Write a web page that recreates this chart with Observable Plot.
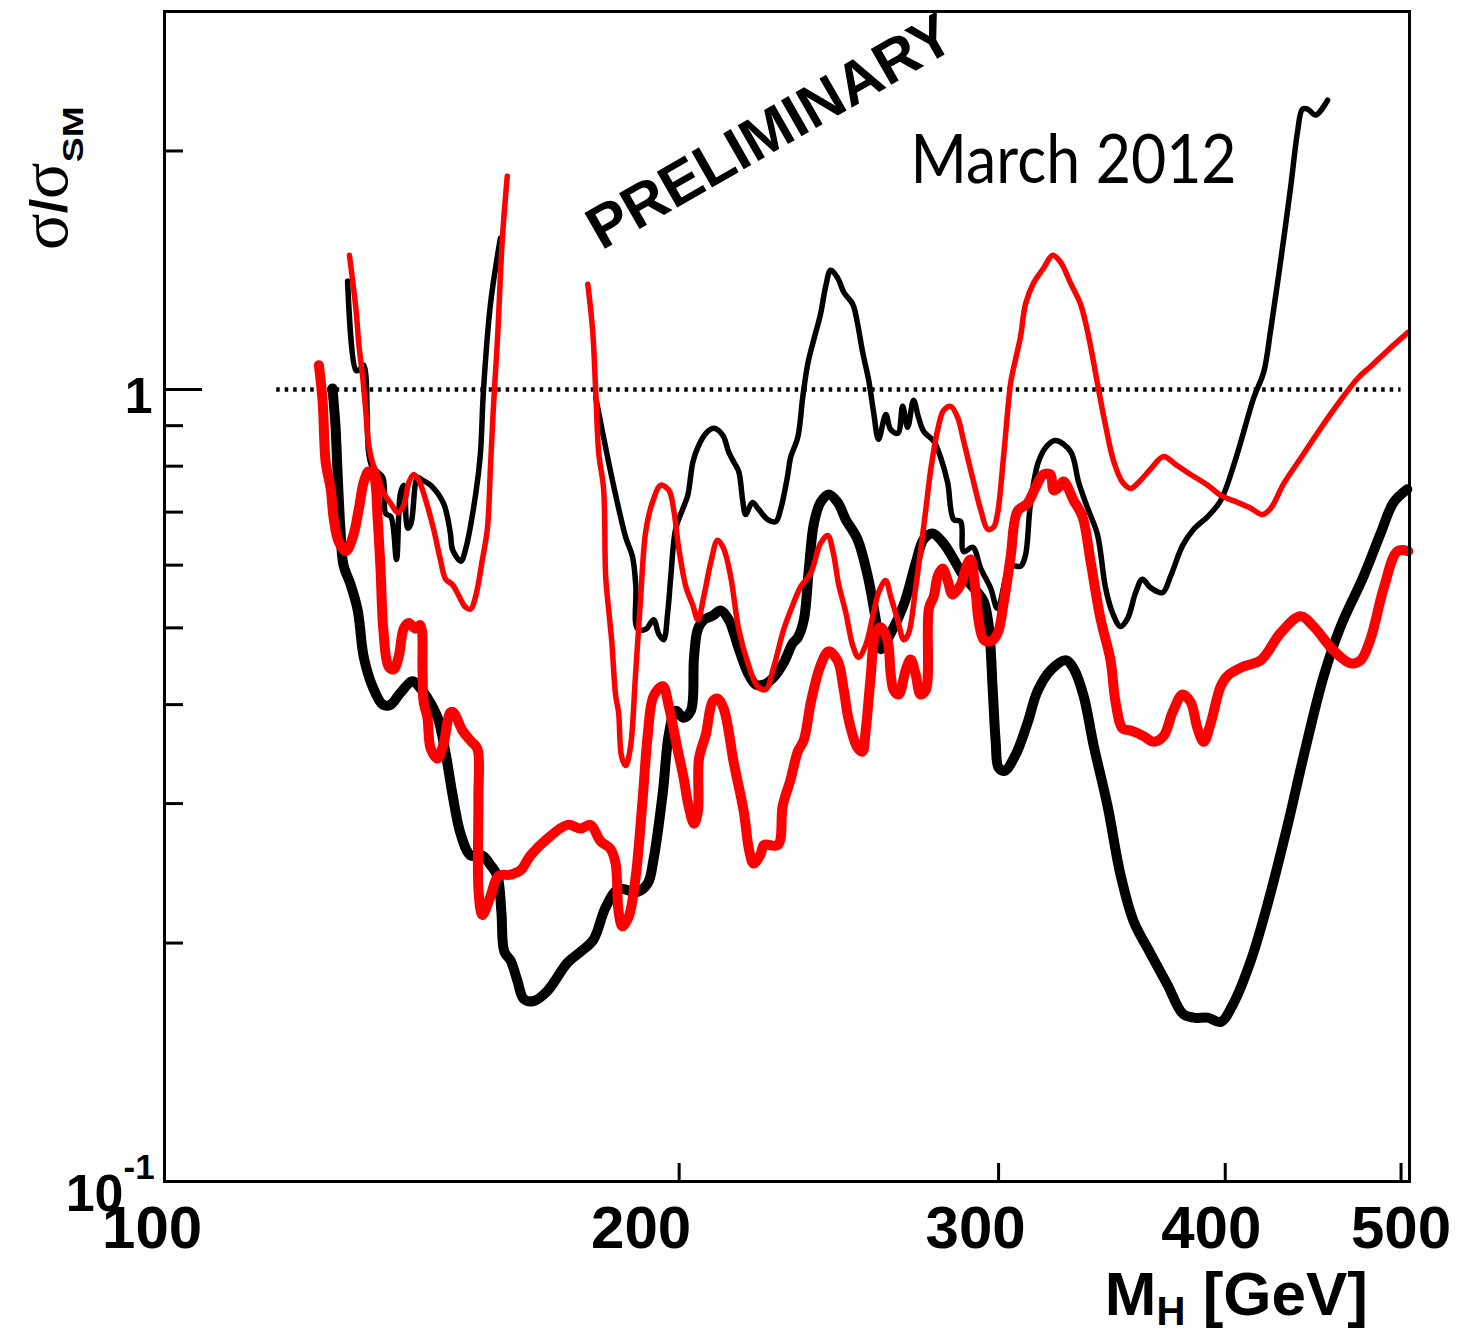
<!DOCTYPE html>
<html><head><meta charset="utf-8">
<script src="https://cdn.jsdelivr.net/npm/d3@7"></script>
<script src="https://cdn.jsdelivr.net/npm/@observablehq/plot@0.6"></script>
<style>html,body{margin:0;padding:0;background:#fff;} #chart svg{display:block;background:#fff}</style>
</head><body><div id="chart"></div>
<script>
// ---- data (M_H in GeV, sigma/sigma_SM) ----
const xTickValues = [200, 300, 400, 500];
const xLabelValues = [100, 200, 300, 400, 500];
const yMajorTicks = [1];
const yMinorTicks = [2, 0.9, 0.8, 0.7, 0.6, 0.5, 0.4, 0.3, 0.2];
const unityLevel = [1];
const unityRange = [120, 500];

const thickBlack = [
[128.8,1.003],[129.3,0.898],[129.6,0.797],[130.1,0.668],[130.6,0.601],[131.8,0.567],[133.0,0.526],[134.0,0.460],[135.5,0.422],[137.3,0.400],[138.7,0.400],[140.4,0.414],[142.6,0.428],[143.7,0.422],[145.3,0.408],[147.2,0.385],[148.7,0.347],[150.0,0.308],[151.6,0.274],[153.5,0.258],[155.8,0.258],[157.4,0.251],[158.8,0.243],[159.6,0.219],[160.2,0.195],[161.5,0.190],[162.9,0.179],[164.2,0.170],[166.3,0.169],[169.2,0.174],[173.6,0.189],[176.5,0.195],[179.4,0.202],[182.2,0.222],[185.2,0.234],[189.7,0.232],[192.2,0.238],[193.6,0.255],[195.9,0.310],[197.4,0.367],[199.1,0.393],[201.1,0.385],[203.0,0.393],[203.8,0.458],[204.8,0.498],[206.4,0.512],[208.7,0.518],[210.8,0.526],[213.0,0.512],[215.7,0.471],[218.2,0.439],[220.4,0.424],[222.7,0.424],[225.5,0.433],[228.4,0.452],[231.0,0.478],[232.5,0.486],[234.3,0.512],[235.8,0.594],[237.3,0.677],[239.3,0.720],[241.8,0.737],[244.6,0.720],[247.1,0.685],[250.8,0.647],[254.1,0.581],[256.6,0.515],[258.3,0.470],[261.6,0.492],[266.0,0.535],[270.0,0.603],[272.8,0.647],[275.9,0.658],[279.8,0.639],[283.4,0.610],[287.0,0.581],[291.4,0.558],[294.4,0.540],[296.3,0.502],[297.8,0.416],[298.9,0.359],[300.0,0.333],[302.3,0.330],[306.6,0.346],[311.2,0.379],[315.2,0.416],[320.5,0.442],[326.7,0.455],[330.0,0.444],[334.2,0.410],[338.4,0.356],[344.5,0.298],[350.2,0.244],[356.1,0.213],[363.8,0.194],[371.8,0.177],[378.9,0.163],[384.3,0.161],[391.2,0.161],[397.7,0.159],[404.3,0.168],[413.2,0.190],[422.1,0.224],[433.0,0.282],[441.8,0.344],[453.3,0.435],[463.1,0.502],[476.8,0.581],[487.2,0.658],[495.3,0.720],[504.0,0.748]
];

const thinBlackLow = [
[131.3,1.370],[132.7,1.057],[133.2,1.057],[134.0,1.073],[134.85,0.833],[135.5,0.797],[137.3,0.774],[137.8,0.697],[138.7,0.691],[139.7,0.610],[140.4,0.739],[141.0,0.757],[141.7,0.668],[142.3,0.677],[143.5,0.774],[144.4,0.768],[145.9,0.757],[148.3,0.718],[149.6,0.658],[150.0,0.628],[151.6,0.607],[152.5,0.628],[154.5,0.739],[155.4,0.828],[156.0,0.994],[157.4,1.281],[159.4,1.552]
];

const thinBlackHigh = [
[179.9,0.977],[182.6,0.823],[185.0,0.716],[186.9,0.650],[188.5,0.615],[189.3,0.564],[189.7,0.499],[191.7,0.498],[193.6,0.512],[194.9,0.491],[196.1,0.483],[197.1,0.522],[197.9,0.581],[199.1,0.666],[200.9,0.706],[202.2,0.735],[203.5,0.809],[204.8,0.845],[206.9,0.880],[209.0,0.893],[211.4,0.875],[213.0,0.833],[214.4,0.809],[215.7,0.788],[216.8,0.724],[217.6,0.695],[219.5,0.720],[221.2,0.706],[223.8,0.685],[226.1,0.681],[227.5,0.706],[229.5,0.777],[230.4,0.821],[232.5,0.870],[234.0,0.980],[235.5,1.079],[237.3,1.157],[239.3,1.244],[240.9,1.350],[242.4,1.414],[244.6,1.382],[246.5,1.326],[249.3,1.281],[250.8,1.212],[252.4,1.117],[254.4,1.027],[256.0,0.935],[257.6,0.865],[260.0,0.930],[261.6,0.890],[264.0,0.880],[265.6,0.952],[267.3,0.896],[269.3,0.969],[271.0,0.922],[272.8,0.885],[276.3,0.860],[278.7,0.821],[281.2,0.763],[283.4,0.685],[285.9,0.681],[287.0,0.624],[290.3,0.632],[293.3,0.594],[297.0,0.561],[299.6,0.529],[304.6,0.598],[308.5,0.598],[310.4,0.617],[312.4,0.718],[315.6,0.811],[319.2,0.850],[322.5,0.862],[328.7,0.835],[332.1,0.763],[335.9,0.708],[340.1,0.656],[343.6,0.562],[346.7,0.522],[350.2,0.502],[353.4,0.514],[357.0,0.554],[360.1,0.576],[363.8,0.562],[369.4,0.554],[373.2,0.581],[378.9,0.635],[384.3,0.666],[391.2,0.691],[397.7,0.724],[405.4,0.818],[414.8,0.977],[420.0,1.051],[423.8,1.191],[429.2,1.456],[434.7,1.806],[438.5,2.119],[441.2,2.259],[444.1,2.259],[448.7,2.220],[455.5,2.319]
];

const thickRed = [
[126.6,1.073],[127.2,0.966],[127.7,0.809],[128.5,0.750],[129.0,0.687],[129.8,0.643],[131.0,0.625],[132.2,0.652],[133.2,0.708],[134.0,0.763],[134.85,0.788],[135.7,0.779],[136.4,0.687],[136.9,0.593],[137.4,0.496],[138.3,0.447],[139.2,0.443],[140.1,0.460],[141.0,0.499],[141.9,0.507],[143.1,0.499],[144.0,0.504],[144.4,0.441],[144.6,0.403],[145.3,0.385],[145.9,0.352],[147.2,0.342],[148.3,0.357],[149.6,0.391],[150.2,0.391],[151.9,0.371],[153.5,0.360],[154.8,0.352],[155.0,0.304],[155.05,0.232],[155.8,0.217],[157.4,0.229],[159.0,0.243],[161.5,0.244],[163.5,0.247],[165.6,0.258],[169.2,0.271],[173.6,0.282],[176.5,0.279],[178.7,0.282],[181.0,0.269],[183.3,0.263],[184.5,0.252],[185.2,0.219],[186.1,0.210],[187.6,0.216],[189.2,0.241],[190.9,0.302],[192.2,0.367],[193.6,0.410],[195.9,0.422],[197.4,0.398],[199.6,0.351],[201.1,0.324],[202.4,0.298],[203.8,0.283],[204.8,0.293],[205.1,0.342],[206.9,0.367],[208.7,0.404],[210.0,0.407],[211.6,0.396],[214.4,0.337],[217.1,0.293],[218.5,0.263],[219.8,0.252],[221.8,0.259],[222.7,0.266],[226.7,0.266],[228.1,0.298],[230.4,0.322],[232.5,0.349],[234.3,0.361],[236.4,0.403],[239.3,0.448],[241.8,0.467],[244.6,0.454],[246.5,0.417],[248.0,0.383],[250.8,0.353],[252.4,0.349],[253.4,0.370],[255.0,0.432],[256.6,0.492],[258.3,0.501],[260.6,0.481],[261.6,0.437],[262.6,0.417],[264.3,0.412],[266.6,0.442],[268.3,0.456],[270.0,0.437],[271.7,0.412],[273.5,0.417],[274.6,0.529],[276.3,0.548],[277.7,0.581],[279.4,0.594],[281.2,0.574],[283.0,0.551],[285.9,0.567],[288.4,0.603],[289.5,0.610],[291.4,0.554],[292.5,0.510],[294.4,0.483],[297.0,0.481],[299.6,0.492],[301.9,0.537],[304.6,0.614],[307.3,0.702],[311.2,0.718],[314.4,0.752],[317.6,0.781],[320.4,0.781],[321.7,0.746],[323.7,0.752],[325.8,0.765],[330.0,0.724],[333.7,0.691],[337.1,0.608],[341.4,0.514],[345.8,0.455],[348.0,0.403],[351.2,0.373],[354.8,0.371],[360.6,0.365],[365.2,0.359],[369.9,0.365],[374.1,0.391],[378.9,0.412],[382.8,0.403],[386.2,0.373],[389.2,0.359],[392.7,0.379],[397.7,0.422],[401.2,0.435],[409.5,0.447],[418.4,0.455],[429.2,0.493],[440.1,0.517],[447.5,0.502],[459.0,0.468],[469.1,0.451],[475.0,0.455],[481.1,0.485],[489.1,0.561],[497.8,0.625],[504.6,0.625]
];

const thinRedLow = [
[131.6,1.477],[132.7,1.262],[133.2,1.137],[133.8,1.042],[134.3,0.952],[134.85,0.852],[135.5,0.809],[136.4,0.779],[137.5,0.739],[138.7,0.718],[139.9,0.699],[141.0,0.714],[141.9,0.763],[142.8,0.781],[143.7,0.768],[144.9,0.728],[146.4,0.668],[147.7,0.610],[148.7,0.576],[150.0,0.567],[151.2,0.549],[152.5,0.531],[153.5,0.528],[154.5,0.549],[155.8,0.610],[156.8,0.668],[157.4,0.797],[158.0,0.952],[158.8,1.153],[159.8,1.552],[160.8,1.859]
];

const thinRedHigh = [
[178.1,1.358],[179.2,1.187],[179.9,0.994],[180.6,0.830],[181.7,0.750],[182.2,0.579],[182.9,0.526],[183.6,0.481],[184.5,0.411],[185.2,0.391],[185.9,0.344],[186.9,0.335],[188.0,0.353],[189.2,0.434],[190.4,0.540],[191.7,0.662],[193.4,0.722],[195.4,0.757],[197.4,0.746],[198.6,0.706],[199.9,0.630],[201.7,0.564],[203.5,0.534],[204.8,0.512],[206.4,0.549],[208.2,0.605],[210.0,0.645],[211.6,0.630],[213.5,0.581],[215.7,0.498],[218.2,0.452],[220.9,0.422],[223.2,0.418],[225.5,0.446],[228.4,0.498],[231.0,0.534],[233.4,0.564],[236.4,0.587],[239.3,0.639],[241.5,0.654],[243.1,0.625],[244.9,0.567],[247.1,0.523],[249.3,0.475],[251.1,0.459],[253.4,0.475],[256.0,0.523],[257.6,0.554],[259.9,0.574],[261.6,0.548],[264.0,0.510],[266.0,0.483],[267.6,0.492],[270.0,0.561],[271.7,0.625],[273.5,0.704],[275.2,0.790],[277.7,0.890],[279.8,0.941],[282.3,0.952],[284.8,0.922],[287.0,0.860],[290.3,0.772],[293.3,0.704],[295.9,0.666],[298.1,0.670],[299.6,0.697],[301.9,0.823],[304.6,1.018],[305.8,1.066],[308.5,1.167],[310.4,1.281],[313.6,1.362],[317.6,1.422],[321.3,1.477],[324.6,1.447],[328.7,1.362],[332.9,1.281],[336.3,1.167],[340.1,1.018],[343.6,0.901],[347.2,0.811],[351.2,0.763],[354.8,0.750],[358.3,0.763],[363.8,0.793],[369.9,0.823],[375.6,0.804],[382.8,0.781],[391.2,0.757],[397.7,0.735],[406.4,0.720],[413.2,0.708],[419.4,0.695],[423.8,0.708],[430.9,0.761],[440.1,0.818],[451.5,0.893],[463.1,0.969],[473.3,1.033],[481.1,1.069],[491.6,1.120],[504.6,1.181]
];

// ---- layout ----
const W = 1461, H = 1335;
const mL = 164, mR = 52, mT = 11, mB = 154;
const xDomain = [104.07, 505.4];
const yDomain = [0.1, 3];
const plotW = W - mL - mR, plotH = H - mT - mB;
const xAtPx = px => xDomain[0] * Math.pow(xDomain[1] / xDomain[0], px / plotW);
const yAtPx = px => yDomain[0] * Math.pow(yDomain[1] / yDomain[0], px / plotH);
const SANS = "Liberation Sans, Arial, Helvetica, sans-serif";
const xLabelShift = {100: 19, 200: -38, 300: -23, 400: -14, 500: 0};
const THICK = 10, THIN = 5.5;

const curve = (data, color, width) => Plot.line(data, {
  x: d => d[0], y: d => d[1], stroke: color, strokeWidth: width,
  curve: "catmull-rom", strokeLinejoin: "round"
});

const chart = Plot.plot({
  width: W, height: H,
  marginLeft: mL, marginRight: mR, marginTop: mT, marginBottom: mB,
  x: {type: "log", domain: xDomain, axis: null},
  y: {type: "log", domain: yDomain, axis: null},
  style: {background: "white", overflow: "visible"},
  marks: [
    Plot.ruleY(unityLevel, {x1: unityRange[0], x2: unityRange[1], stroke: "black", strokeWidth: 4.5, strokeDasharray: "3.5,5"}),
    curve(thickBlack, "black", THICK),
    curve(thinBlackLow, "black", THIN),
    curve(thinBlackHigh, "black", THIN),
    curve(thickRed, "#ff0000", THICK),
    curve(thinRedLow, "#ff0000", THIN),
    curve(thinRedHigh, "#ff0000", THIN),
    Plot.ruleX(xTickValues, {y1: yDomain[0], y2: yAtPx(18), stroke: "black", strokeWidth: 3}),
    Plot.ruleY(yMajorTicks, {x1: xDomain[0], x2: xAtPx(38), stroke: "black", strokeWidth: 3}),
    Plot.ruleY(yMinorTicks, {x1: xDomain[0], x2: xAtPx(19), stroke: "black", strokeWidth: 3}),
    Plot.frame({stroke: "black", strokeWidth: 3}),
    ...xLabelValues.map(v => Plot.text([v], {
      x: d => d, y: yDomain[0], text: d => String(d), dx: xLabelShift[v], dy: 66,
      lineAnchor: "bottom", fontSize: 60, fontWeight: "bold", fontFamily: SANS, fill: "black"
    })),
    Plot.text(yMajorTicks, {x: xDomain[0], y: d => d, text: d => String(d), textAnchor: "end", dx: -12, dy: 24,
      lineAnchor: "bottom", fontSize: 50, fontWeight: "bold", fontFamily: SANS, fill: "black"}),
    Plot.text([yDomain[0]], {x: xDomain[0], y: d => d, text: () => "10", textAnchor: "end", dx: -41, dy: 29,
      lineAnchor: "bottom", fontSize: 52, fontWeight: "bold", fontFamily: SANS, fill: "black"}),
    Plot.text([yDomain[0]], {x: xDomain[0], y: d => d, text: () => "-1", textAnchor: "start", dx: -41, dy: -3,
      lineAnchor: "bottom", fontSize: 35, fontWeight: "bold", fontFamily: SANS, fill: "black"}),
    Plot.text([{m: 181.2, s: 1.496}], {x: "m", y: "s", text: () => "PRELIMINARY", rotate: -29.8,
      textAnchor: "start", lineAnchor: "bottom", fontSize: 60, fontWeight: "bold", fontFamily: SANS, fill: "black"}),
    Plot.text([{m: 268.3, s: 1.8215}], {x: "m", y: "s", text: () => "March 2012",
      textAnchor: "start", lineAnchor: "bottom", fontSize: 68, fontFamily: "Lato, 'Open Sans', sans-serif", fill: "black"})
  ]
});

document.getElementById("chart").appendChild(chart);
const svg = d3.select(chart);
svg.selectAll("text").filter(function() { return this.textContent === "March 2012"; })
  .attr("textLength", 326).attr("lengthAdjust", "spacingAndGlyphs");

// y-axis title: sigma / sigma_SM
const yt = svg.append("text").attr("transform", "translate(67,250) rotate(-90)")
  .attr("text-anchor", "start").attr("fill", "black").style("white-space", "pre");
yt.append("tspan").attr("font-family", "Liberation Serif, Times New Roman, serif").attr("font-size", 68).text("σ");
yt.append("tspan").attr("font-family", SANS).attr("font-weight", "bold").attr("font-size", 52).text("/");
yt.append("tspan").attr("font-family", "Liberation Serif, Times New Roman, serif").attr("font-size", 68).text("σ");
yt.append("tspan").attr("font-family", SANS).attr("font-weight", "bold").attr("font-size", 30).attr("dy", 16)
  .attr("textLength", 56).attr("lengthAdjust", "spacingAndGlyphs").text("SM");

// x-axis title: M_H [GeV]
const xt = svg.append("text").attr("x", 1368).attr("y", 1315).attr("text-anchor", "end")
  .attr("font-family", SANS).attr("font-weight", "bold").attr("font-size", 62).attr("fill", "black")
  .style("white-space", "pre");
xt.append("tspan").text("M");
xt.append("tspan").attr("font-size", 40).attr("dy", 10).text("H");
xt.append("tspan").attr("dy", -10).text(" [GeV]");
</script>
</body></html>
